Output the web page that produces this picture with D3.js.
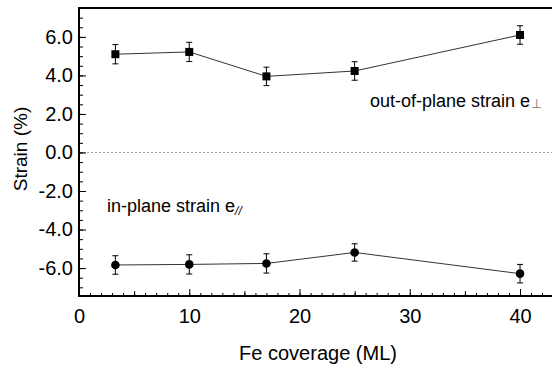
<!DOCTYPE html>
<html>
<head>
<meta charset="utf-8">
<script src="https://cdn.jsdelivr.net/npm/d3@7"></script>
<style>
  body { margin: 0; background: #fff; }
  svg text { font-family: "Liberation Sans", Arial, sans-serif; fill: #000; }
</style>
</head>
<body>
<svg width="552" height="368"></svg>
<script>
// data
var coverage = [3.3, 10, 17, 25, 40];
var outOfPlane = [5.1, 5.22, 3.95, 4.23, 6.1];
var outErr = [0.5, 0.5, 0.48, 0.48, 0.48];
var inPlane = [-5.84, -5.81, -5.76, -5.19, -6.29];
var inErr = [0.48, 0.5, 0.5, 0.45, 0.48];
var yTicks = [-6, -4, -2, 0, 2, 4, 6];
var xTicks = [0, 10, 20, 30, 40];

var svg = d3.select("svg");
var plotLeft = 79, plotTop = 8, plotRight = 552, plotBottom = 296;

var x = d3.scaleLinear().domain([0, 42.9]).range([plotLeft, plotRight]);
var y = d3.scaleLinear().domain([-7.45, 7.5]).range([plotBottom, plotTop]);

// hyphen minus like the original figure
var fmt1 = d3.formatLocale({ decimal: ".", thousands: ",", grouping: [3], currency: ["", ""], minus: "-" }).format(".1f");

// zero line
svg.append("line")
  .attr("x1", plotLeft).attr("x2", plotRight)
  .attr("y1", y(0)).attr("y2", y(0))
  .attr("stroke", "#999")
  .attr("stroke-dasharray", "2,2");

// minor ticks
svg.append("g")
  .attr("transform", "translate(" + plotLeft + ",0)")
  .call(d3.axisLeft(y).tickValues(d3.range(-7, 7.6, 0.5)).tickSize(-4).tickFormat("").tickSizeOuter(0))
  .call(function(g) { g.select(".domain").remove(); });

svg.append("g")
  .attr("transform", "translate(0," + plotBottom + ")")
  .call(d3.axisBottom(x).tickValues(d3.range(1, 43, 1)).tickSize(-3).tickFormat("").tickSizeOuter(0))
  .call(function(g) { g.select(".domain").remove(); });

svg.append("g")
  .attr("transform", "translate(0," + plotBottom + ")")
  .call(d3.axisBottom(x).tickValues([5, 15, 25, 35]).tickSize(-5).tickFormat("").tickSizeOuter(0))
  .call(function(g) { g.select(".domain").remove(); });

// major axes
var yAxis = svg.append("g")
  .attr("transform", "translate(" + plotLeft + ",0)")
  .call(d3.axisLeft(y).tickValues(yTicks).tickSize(-7).tickPadding(6).tickSizeOuter(0).tickFormat(fmt1));
yAxis.selectAll("text").attr("font-size", 20).style("font-family", "'Liberation Sans', Arial, sans-serif");
yAxis.select(".domain").remove();

var xAxis = svg.append("g")
  .attr("transform", "translate(0," + plotBottom + ")")
  .call(d3.axisBottom(x).tickValues(xTicks).tickSize(-7).tickPadding(13).tickSizeOuter(0));
xAxis.selectAll("text").attr("font-size", 20).style("font-family", "'Liberation Sans', Arial, sans-serif");
xAxis.select(".domain").remove();

// frame
svg.append("path")
  .attr("d", "M" + plotRight + "," + plotTop + "H" + plotLeft + "V" + plotBottom + "H" + plotRight)
  .attr("fill", "none")
  .attr("stroke", "#000")
  .attr("stroke-width", 2);

// series
function drawSeries(vals, errs, shape) {
  var pts = coverage.map(function(c, i) { return { x: c, y: vals[i], e: errs[i] }; });
  svg.append("path")
    .datum(pts)
    .attr("fill", "none")
    .attr("stroke", "#333")
    .attr("stroke-width", 1)
    .attr("d", d3.line().x(function(d) { return x(d.x); }).y(function(d) { return y(d.y); }));

  var eb = svg.append("g").attr("stroke", "#000").attr("stroke-width", 1);
  pts.forEach(function(d) {
    var cx = x(d.x);
    eb.append("line").attr("x1", cx).attr("x2", cx).attr("y1", y(d.y + d.e)).attr("y2", y(d.y - d.e));
    eb.append("line").attr("x1", cx - 3).attr("x2", cx + 3).attr("y1", y(d.y + d.e)).attr("y2", y(d.y + d.e));
    eb.append("line").attr("x1", cx - 3).attr("x2", cx + 3).attr("y1", y(d.y - d.e)).attr("y2", y(d.y - d.e));
  });

  if (shape === "square") {
    svg.append("g").selectAll("rect").data(pts).join("rect")
      .attr("x", function(d) { return x(d.x) - 4; })
      .attr("y", function(d) { return y(d.y) - 4; })
      .attr("width", 8).attr("height", 8)
      .attr("fill", "#000");
  } else {
    svg.append("g").selectAll("circle").data(pts).join("circle")
      .attr("cx", function(d) { return x(d.x); })
      .attr("cy", function(d) { return y(d.y); })
      .attr("r", 4.3)
      .attr("fill", "#000");
  }
}
drawSeries(outOfPlane, outErr, "square");
drawSeries(inPlane, inErr, "circle");

// annotations
var t1 = svg.append("text").attr("x", 370).attr("y", 107).attr("font-size", 18);
t1.append("tspan").text("out-of-plane strain e");
t1.append("tspan").attr("dy", 1).attr("dx", 1).attr("font-size", 13).style("fill", "#777").text("\u22a5");

var t2 = svg.append("text").attr("x", 107).attr("y", 212).attr("font-size", 18);
t2.append("tspan").text("in-plane strain e");
t2.append("tspan").attr("dy", 3).attr("font-size", 12).attr("font-style", "italic").text("//");

// axis titles
svg.append("text")
  .attr("transform", "translate(27,149) rotate(-90)")
  .attr("text-anchor", "middle")
  .attr("font-size", 19)
  .text("Strain (%)");

svg.append("text")
  .attr("x", 318).attr("y", 360)
  .attr("text-anchor", "middle")
  .attr("font-size", 20)
  .text("Fe coverage (ML)");
</script>
</body>
</html>
